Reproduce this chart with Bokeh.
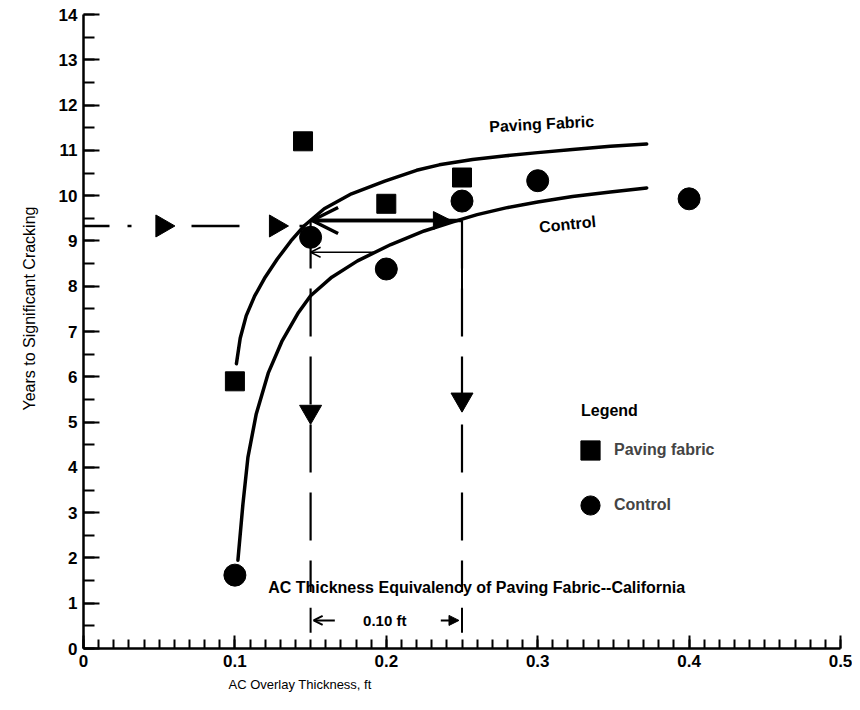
from bokeh.plotting import figure
from bokeh.models import (Range1d, Label, Arrow, OpenHead, NormalHead, Legend,
                          LegendItem, FixedTicker, Title)
from bokeh.embed import file_html
from bokeh.resources import INLINE
import math

# ---------------- data ----------------
fabric_x = [0.10, 0.145, 0.20, 0.25]
fabric_y = [5.9, 11.2, 9.82, 10.4]

control_x = [0.10, 0.15, 0.20, 0.25, 0.30, 0.40]
control_y = [1.62, 9.08, 8.38, 9.88, 10.33, 9.93]

fabric_curve_x = [0.101, 0.1035, 0.1075, 0.113, 0.120, 0.128, 0.137, 0.146, 0.159,
                  0.177, 0.199, 0.220, 0.235, 0.257, 0.279, 0.300, 0.323, 0.348, 0.372]
fabric_curve_y = [6.29, 6.85, 7.35, 7.78, 8.20, 8.60, 9.00, 9.34, 9.71,
                  10.04, 10.32, 10.56, 10.68, 10.80, 10.88, 10.95, 11.02, 11.09, 11.14]

control_curve_x = [0.102, 0.1053, 0.1086, 0.1141, 0.122, 0.131, 0.142, 0.150, 0.164,
                   0.181, 0.203, 0.225, 0.244, 0.260, 0.279, 0.300, 0.323, 0.348, 0.372]
control_curve_y = [1.95, 3.19, 4.22, 5.18, 6.08, 6.78, 7.42, 7.79, 8.20,
                   8.56, 8.92, 9.22, 9.42, 9.58, 9.73, 9.86, 9.98, 10.08, 10.17]

target_years = 9.33          # horizontal construction line
equiv_x = [0.15, 0.25]       # equivalent thicknesses (fabric / control)
equiv_years = 9.45           # double arrow level
control_at_fabric = 8.75     # control level read at 0.15 ft
right_tri_x = [0.052, 0.127]
down_tri_y = [5.23, 5.50]

x_ticks = [0, 0.1, 0.2, 0.3, 0.4, 0.5]
x_tick_labels = ["0", "0.1", "0.2", "0.3", "0.4", "0.5"]
y_ticks = list(range(0, 15))

FONT = "Liberation Sans"

# ---------------- figure ----------------
p = figure(width=852, height=698, output_backend="svg", toolbar_location=None,
           x_range=Range1d(0, 0.5), y_range=Range1d(0, 14),
           min_border_left=83, min_border_right=12, min_border_top=14,
           min_border_bottom=50)
p.outline_line_color = None
p.xgrid.visible = False
p.ygrid.visible = False
p.background_fill_color = "white"

# axes
xa = p.xaxis[0]
xa.ticker = FixedTicker(ticks=x_ticks,
                        minor_ticks=[round(i * 0.01, 2) for i in range(0, 51)])
xa.major_label_overrides = {t: l for t, l in zip(x_ticks, x_tick_labels)}
xa.major_tick_in = 13
xa.major_tick_out = 0
xa.minor_tick_in = 9
xa.minor_tick_out = 0
xa.axis_line_width = 2.5
xa.major_tick_line_width = 2
xa.minor_tick_line_width = 2
xa.major_label_text_font = FONT
xa.major_label_text_font_style = "bold"
xa.major_label_text_font_size = "17px"
xa.major_label_text_color = "black"
xa.major_label_standoff = 6

ya = p.yaxis[0]
ya.ticker = FixedTicker(ticks=y_ticks, minor_ticks=[i * 0.5 for i in range(0, 29)])
ya.major_tick_in = 16
ya.major_tick_out = 0
ya.minor_tick_in = 11
ya.minor_tick_out = 0
ya.axis_line_width = 2.5
ya.major_tick_line_width = 2
ya.minor_tick_line_width = 2
ya.major_label_text_font = FONT
ya.major_label_text_font_style = "bold"
ya.major_label_text_font_size = "17px"
ya.major_label_text_color = "black"
ya.major_label_standoff = 6

# axis titles (offset like the original)
p.add_layout(Title(text="Years to Significant Cracking", align="left", offset=238,
                   text_font=FONT, text_font_size="16px", text_font_style="normal",
                   text_color="black", standoff=36), "left")
p.add_layout(Title(text="AC Overlay Thickness, ft", align="left", offset=145,
                   text_font=FONT, text_font_size="13px", text_font_style="normal",
                   text_color="black", standoff=10), "below")

# curves
p.line(fabric_curve_x, fabric_curve_y, line_color="black", line_width=3.5,
       line_join="round", line_cap="round")
p.line(control_curve_x, control_curve_y, line_color="black", line_width=3.5,
       line_join="round", line_cap="round")

# construction lines
p.line([0, fabric_curve_x[7]], [target_years, target_years], line_color="black",
       line_width=2.5, line_dash="26 18 4 60 48 60")
p.scatter(right_tri_x, [target_years] * 2, marker="triangle", size=22,
          angle=-math.pi / 2, color="black")

for xv in equiv_x:
    p.line([xv, xv], [equiv_years, 1.25], line_color="black", line_width=2.2,
           line_dash="48 20")
p.scatter(equiv_x, down_tri_y, marker="inverted_triangle", size=22, color="black")
p.line([equiv_x[1], equiv_x[1]], [equiv_years, 7.85], line_color="black",
       line_width=2)

# double arrow between equivalent thicknesses
p.line(equiv_x, [equiv_years] * 2, line_color="black", line_width=3.5)
mid = (equiv_x[0] + equiv_x[1]) / 2
p.add_layout(Arrow(end=OpenHead(size=26, line_width=3.5, line_color="black"),
                   x_start=mid, y_start=equiv_years, x_end=equiv_x[0] + 0.001,
                   y_end=equiv_years, line_width=3.5, line_color="black"))
p.add_layout(Arrow(end=NormalHead(size=18, fill_color="black", line_color="black"),
                   x_start=mid, y_start=equiv_years, x_end=equiv_x[1] - 0.007,
                   y_end=equiv_years, line_width=3.5, line_color="black"))

# thin arrow at control level
p.add_layout(Arrow(end=OpenHead(size=10, line_width=1.5, line_color="black"),
                   x_start=0.192, y_start=control_at_fabric, x_end=equiv_x[0],
                   y_end=control_at_fabric, line_width=1.5, line_color="black"))

# bottom 0.10 ft marker
for xv in equiv_x:
    p.line([xv, xv], [0.35, 0.9], line_color="black", line_width=2)
p.add_layout(Arrow(end=OpenHead(size=9, line_width=2, line_color="black"),
                   x_start=0.166, y_start=0.62, x_end=equiv_x[0] + 0.002, y_end=0.62,
                   line_width=2, line_color="black"))
p.add_layout(Arrow(end=NormalHead(size=10, fill_color="black", line_color="black"),
                   x_start=0.236, y_start=0.62, x_end=equiv_x[1] - 0.002, y_end=0.62,
                   line_width=2, line_color="black"))

# data markers
sq = p.scatter(fabric_x, fabric_y, marker="square", size=19, color="black")
ci = p.scatter(control_x, control_y, marker="circle", size=22, color="black")

# text annotations
def lab(x, y, text, size="16px", angle=0.0, align="left", style="bold"):
    p.add_layout(Label(x=x, y=y, text=text, text_font=FONT, text_font_size=size,
                       text_font_style=style, text_align=align,
                       text_baseline="middle", angle=angle, text_color="black"))

lab(0.268, 11.52, "Paving Fabric", angle=math.radians(3))
lab(0.301, 9.30, "Control", angle=math.radians(6))
lab(0.122, 1.35, "AC Thickness Equivalency of Paving Fabric--California")
lab(0.199, 0.62, "0.10 ft", size="15px", align="center")
lab(0.3286, 5.25, "Legend")

# legend
legend = Legend(items=[LegendItem(label="Paving fabric", renderers=[sq]),
                       LegendItem(label="Control", renderers=[ci])],
                location=(483, 119), orientation="vertical")
legend.border_line_color = None
legend.background_fill_alpha = 0
legend.padding = 0
legend.margin = 0
legend.label_text_font = FONT
legend.label_text_font_style = "bold"
legend.label_text_font_size = "16px"
legend.glyph_width = 48
legend.glyph_height = 48
legend.label_standoff = 0
legend.spacing = 7
p.add_layout(legend)

open("out.html", "w").write(file_html(p, INLINE))
